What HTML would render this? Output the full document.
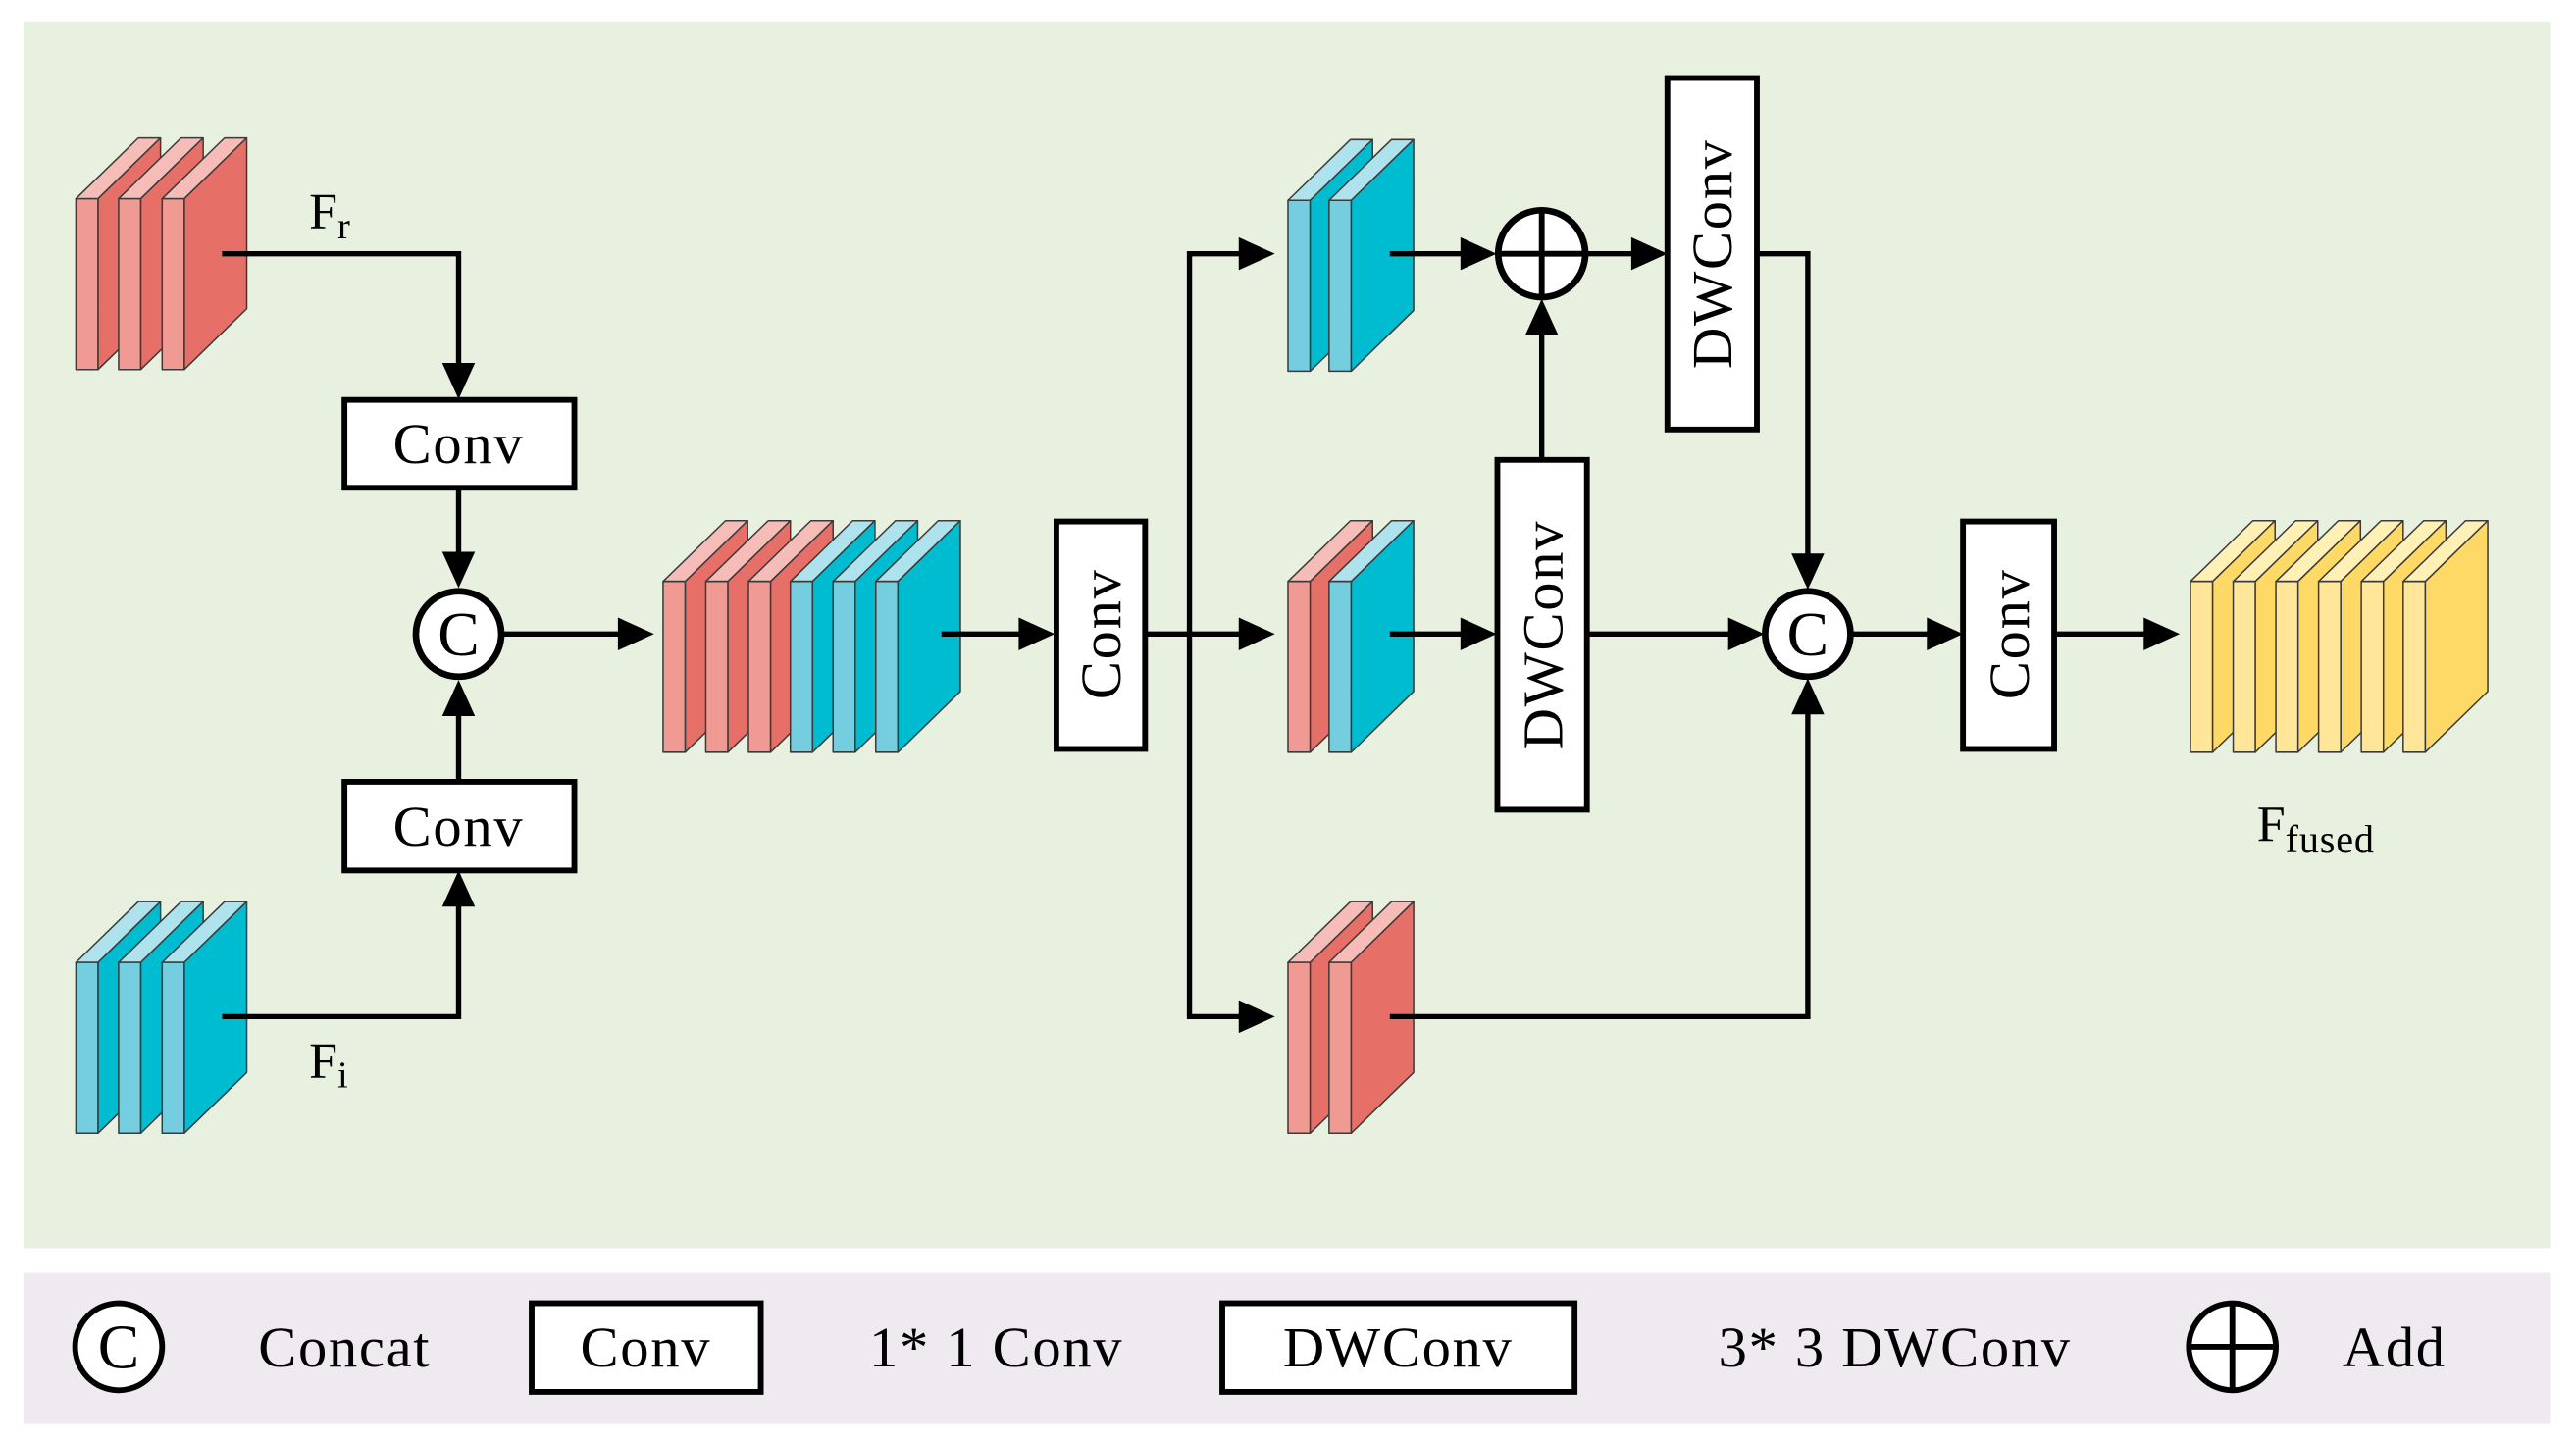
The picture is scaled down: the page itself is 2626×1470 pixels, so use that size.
<!DOCTYPE html>
<html><head><meta charset="utf-8"><style>
html,body{margin:0;padding:0;background:#fff;}
svg{display:block;}
text{font-family:"Liberation Serif",serif;fill:#000;}
</style></head><body>
<svg width="2626" height="1470" viewBox="0 0 1568 878" xmlns="http://www.w3.org/2000/svg">
<defs>
<g id="sr" stroke="#3a3a3a" stroke-width="0.9" stroke-linejoin="round">
<polygon points="0,0 38,-37 51.5,-37 13.5,0" fill="#f6bcb7"/>
<rect x="0" y="0" width="13.5" height="104" fill="#f09a94"/>
<polygon points="13.5,0 51.5,-37 51.5,67 13.5,104" fill="#e66f68"/>
</g>
<g id="sb" stroke="#3a3a3a" stroke-width="0.9" stroke-linejoin="round">
<polygon points="0,0 38,-37 51.5,-37 13.5,0" fill="#aee2ec"/>
<rect x="0" y="0" width="13.5" height="104" fill="#74cedf"/>
<polygon points="13.5,0 51.5,-37 51.5,67 13.5,104" fill="#00bcd0"/>
</g>
<g id="sy" stroke="#3a3a3a" stroke-width="0.9" stroke-linejoin="round">
<polygon points="0,0 38,-37 51.5,-37 13.5,0" fill="#fff0b5"/>
<rect x="0" y="0" width="13.5" height="104" fill="#ffe699"/>
<polygon points="13.5,0 51.5,-37 51.5,67 13.5,104" fill="#ffd966"/>
</g>
</defs>
<rect x="0" y="0" width="1568" height="878" fill="#fff"/>
<rect x="14" y="13" width="1539" height="747" fill="#e8f0e0"/>
<rect x="14" y="775" width="1539" height="92" fill="#eeeaf0"/>

<use href="#sr" x="46" y="121"/><use href="#sr" x="72" y="121"/><use href="#sr" x="98.5" y="121"/>
<use href="#sb" x="46" y="586"/><use href="#sb" x="72" y="586"/><use href="#sb" x="98.5" y="586"/>
<use href="#sr" x="403.5" y="354"/><use href="#sr" x="429.5" y="354"/><use href="#sr" x="455.5" y="354"/>
<use href="#sb" x="481" y="354"/><use href="#sb" x="507" y="354"/><use href="#sb" x="533" y="354"/>
<use href="#sb" x="784" y="122"/><use href="#sb" x="809" y="122"/>
<use href="#sr" x="784" y="354"/><use href="#sb" x="809" y="354"/>
<use href="#sr" x="784" y="586"/><use href="#sr" x="809" y="586"/>
<use href="#sy" x="1333.5" y="354"/><use href="#sy" x="1359.5" y="354"/><use href="#sy" x="1385.5" y="354"/>
<use href="#sy" x="1411.5" y="354"/><use href="#sy" x="1437.5" y="354"/><use href="#sy" x="1463" y="354"/>

<g fill="none" stroke="#000" stroke-width="3.2" stroke-linejoin="miter">
<polyline points="135,154.5 279,154.5 279,225"/>
<line x1="279" y1="297" x2="279" y2="340"/>
<polyline points="135,619 279,619 279,550"/>
<line x1="279" y1="476" x2="279" y2="432"/>
<line x1="305" y1="386" x2="378" y2="386"/>
<line x1="573" y1="386" x2="622" y2="386"/>
<line x1="697" y1="386" x2="756" y2="386"/>
<polyline points="756,154.5 724,154.5 724,619 756,619"/>
<line x1="846" y1="154.5" x2="892" y2="154.5"/>
<line x1="965" y1="154.5" x2="995" y2="154.5"/>
<polyline points="1069.5,154.5 1100.5,154.5 1100.5,340"/>
<line x1="846" y1="386" x2="892" y2="386"/>
<line x1="938.5" y1="280" x2="938.5" y2="200"/>
<line x1="966" y1="386" x2="1054" y2="386"/>
<polyline points="846,619 1100.5,619 1100.5,432"/>
<line x1="1127" y1="386" x2="1175" y2="386"/>
<line x1="1250.5" y1="386" x2="1307" y2="386"/>
</g>
<g fill="#000">
<polygon points="269,221 289,221 279,243"/>
<polygon points="269,336 289,336 279,358"/>
<polygon points="269,552 289,552 279,530"/>
<polygon points="269,436 289,436 279,414"/>
<polygon points="376,376 376,396 398,386"/>
<polygon points="620,376 620,396 642,386"/>
<polygon points="754,144.5 754,164.5 776,154.5"/>
<polygon points="754,376 754,396 776,386"/>
<polygon points="754,609 754,629 776,619"/>
<polygon points="889,144.5 889,164.5 911,154.5"/>
<polygon points="993,144.5 993,164.5 1015,154.5"/>
<polygon points="889,376 889,396 911,386"/>
<polygon points="928.5,204 948.5,204 938.5,182"/>
<polygon points="1090.5,337 1110.5,337 1100.5,359"/>
<polygon points="1052,376 1052,396 1074,386"/>
<polygon points="1090.5,435 1110.5,435 1100.5,413"/>
<polygon points="1173,376 1173,396 1195,386"/>
<polygon points="1305,376 1305,396 1327,386"/>
</g>

<g fill="#fff" stroke="#000" stroke-width="3.5">
<rect x="209.5" y="243.5" width="140" height="53.5"/>
<rect x="209.5" y="476" width="140" height="54"/>
<rect x="643" y="317.5" width="54" height="138.5"/>
<rect x="1015" y="47.5" width="54.5" height="214"/>
<rect x="911.5" y="280" width="54.5" height="213"/>
<rect x="1195" y="317.5" width="55.5" height="138.5"/>
</g>
<g fill="#fff" stroke="#000" stroke-width="4">
<circle cx="279" cy="386" r="26"/>
<circle cx="1100.5" cy="386" r="26"/>
<circle cx="938.5" cy="154.5" r="26.5"/>
</g>
<g stroke="#000" stroke-width="3.5">
<line x1="912" y1="154.5" x2="965" y2="154.5"/>
<line x1="938.5" y1="128" x2="938.5" y2="181"/>
</g>

<g font-size="35" text-anchor="middle" letter-spacing="1">
<text x="279" y="282">Conv</text>
<text x="279" y="515">Conv</text>
<text x="279" y="399" font-size="38" letter-spacing="0">C</text>
<text x="1100.5" y="399" font-size="38" letter-spacing="0">C</text>
<text transform="translate(682,386) rotate(-90)">Conv</text>
<text transform="translate(1235,386) rotate(-90)">Conv</text>
<text transform="translate(1054,154.5) rotate(-90)">DWConv</text>
<text transform="translate(951,386.5) rotate(-90)">DWConv</text>
</g>
<text x="188" y="139" font-size="31">F<tspan font-size="23" dy="6">r</tspan></text>
<text x="188" y="656" font-size="31">F<tspan font-size="23" dy="6">i</tspan></text>
<text x="1374" y="512" font-size="31">F<tspan font-size="24" dy="7" letter-spacing="0.5">fused</tspan></text>

<g fill="#fff" stroke="#000" stroke-width="3.5">
<circle cx="72" cy="820" r="26.5"/>
<rect x="323.5" y="793.5" width="139.5" height="54"/>
<rect x="744" y="793.5" width="214.5" height="54"/>
<circle cx="1359" cy="820" r="26.5"/>
</g>
<g stroke="#000" stroke-width="3.5">
<line x1="1332.5" y1="820" x2="1385.5" y2="820"/>
<line x1="1359" y1="793.5" x2="1359" y2="846.5"/>
</g>
<g font-size="35" letter-spacing="1">
<text x="72" y="833" font-size="38" text-anchor="middle" letter-spacing="0">C</text>
<text x="157" y="832">Concat</text>
<text x="393" y="832" text-anchor="middle">Conv</text>
<text x="529" y="832">1* 1 Conv</text>
<text x="851" y="832" text-anchor="middle">DWConv</text>
<text x="1046" y="832">3* 3 DWConv</text>
<text x="1426" y="832">Add</text>
</g>
</svg>
</body></html>
